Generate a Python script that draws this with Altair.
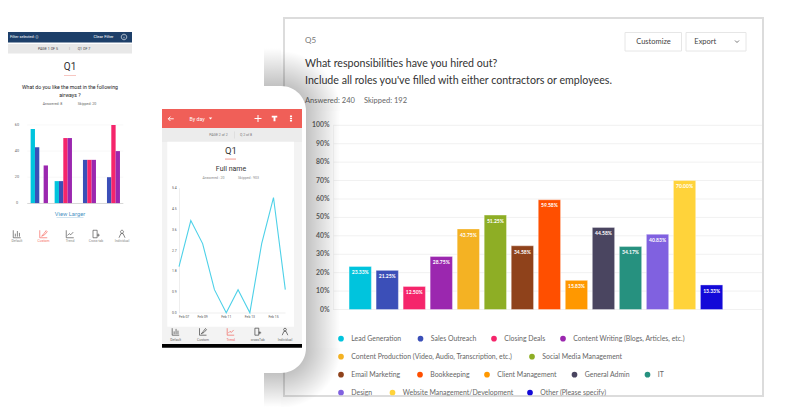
import altair as alt
import pandas as pd

# ---------- data ----------
roles = ["Lead Generation", "Sales Outreach", "Closing Deals", "Content Writing (Blogs, Articles, etc.)",
         "Content Production (Video, Audio, Transcription, etc.)", "Social Media Management",
         "Email Marketing", "Bookkeeping", "Client Management", "General Admin", "IT",
         "Design", "Website Management/Development", "Other (Please specify)"]
role_values = [23.33, 21.25, 12.50, 28.75, 43.75, 51.25, 34.58, 59.58, 15.83, 44.58, 34.17, 40.83, 70.00, 13.33]
role_colors = ["#00c4dd", "#3b4fb8", "#f5256b", "#9b27af", "#f4b223", "#8eae25", "#8f421b",
               "#ff4f00", "#ff9800", "#4a4560", "#26917f", "#8061e0", "#ffd33a", "#1309d8"]
pct_ticks = list(range(0, 101, 10))

airway_groups = ["A", "B", "C", "D"]
airway_series = ["s1", "s2", "s3", "s4"]
airway_colors = ["#00c4dd", "#3b4fb8", "#f5256b", "#9b27af"]
airway_values = {"s1": [57, 17, 0, 0], "s2": [43, 17, 33.3, 20], "s3": [0, 50, 33.3, 60], "s4": [29, 50, 33.3, 40]}
airway_ticks = [0, 20, 40, 60]

trend_days = ["Feb 07", "Feb 08", "Feb 09", "Feb 10", "Feb 11", "Feb 12", "Feb 13", "Feb 14", "Feb 15", "Feb 16"]
trend_values = [2, 4, 3, 1, 0, 1, 0, 3, 5, 1]
trend_ticks = [0.0, 0.9, 1.8, 2.7, 3.6, 4.5, 5.4]
trend_labels = ["Feb 09", "Feb 11", "Feb 13", "Feb 15"]

tab_names = ["Default", "Custom", "Trend", "Cross-tab", "Individual"]
phone_tab_names = ["Default", "Custom", "Trend", "crossTab", "Individual"]

legend_rows = [
    [(0, 341), (1, 420.5), (2, 494), (3, 563)],
    [(4, 341), (5, 532)],
    [(6, 341), (7, 420), (8, 487), (9, 574.5), (10, 647.5)],
    [(11, 341), (12, 392.5), (13, 530)],
]
legend_row_y = [338.7, 356.7, 374.7, 392.7]

# ---------- helpers (page pixels, minus the 8px body margin) ----------
ONE = pd.DataFrame({"a": [0]})
LATO = "Lato"
ROB = "Roboto"
layers = []


def box(x0, y0, x1, y1, **kw):
    layers.append(alt.Chart(ONE).mark_rect(**kw).encode(
        x=alt.value(x0 - 8), x2=alt.value(x1 - 8), y=alt.value(y0 - 8), y2=alt.value(y1 - 8)))


def txt(x, y, s, size, color, align="left", font=LATO, **kw):
    layers.append(alt.Chart(ONE).mark_text(text=s, fontSize=size, color=color, align=align, font=font,
                                           baseline="middle", **kw).encode(
        x=alt.value(x - 8), y=alt.value(y - 8)))


def sym(x, y, path, px, color, filled=False, sw=0.7):
    if filled:
        kw = {"fill": color, "fillOpacity": 1}
    else:
        kw = {"stroke": color, "strokeWidth": sw, "fillOpacity": 0, "strokeOpacity": 1}
    layers.append(alt.Chart(ONE).mark_point(shape=path, size=px * px, filled=filled, **kw).encode(
        x=alt.value(x - 8), y=alt.value(y - 8)))


ICONS = [
    "M-1,-1V1H1M-.45,.7V-.1M.1,.7V-.8M.65,.7V-.3",
    "M-1,-1V1H1M-.5,.6L.1,-.1L.7,-.9L1,-.6L.3,.2Z",
    "M-1,-1V1H1M-.7,.4L-.2,-.1L.2,.2L.85,-.5",
    "M-.8,-1H.3V1H-.8ZM.3,.3H1M.6,-.1V.7",
    "M-.4,-.6A.4,.4 0 1 1 .4,-.6A.4,.4 0 1 1 -.4,-.6M-.8,1L-.3,-.1H.3L.8,1",
]

# ---------- left panel ----------
box(8, 32, 132, 42.5, fill="#1d3f69")
txt(10, 37, "Filter selected: ()", 3.8, "#ffffff", font=ROB)
txt(103.5, 37, "Clear Filter", 4.2, "#ffffff", "center", font=ROB)
sym(124, 37, "M-1,0A1,1 0 1 1 1,0A1,1 0 1 1 -1,0M0,-.1V.5M0,-.5V-.4", 5.5, "#ffffff", sw=0.6)
box(8, 44, 132, 53.5, fill="#e8e8e8")
txt(48, 48.8, "PAGE 1  OF 5", 3.6, "#444444", "center", font=ROB)
txt(69.5, 48.8, "|", 4, "#999999", "center", font=ROB)
txt(84, 48.8, "Q1  OF 7", 3.6, "#444444", "center", font=ROB)
txt(70, 66.7, "Q1", 10, "#333333", "center", font=ROB)
box(64, 75, 76, 75.8, fill="#f6b8b2")
txt(70, 87.3, "What do you like the most in the following", 5.2, "#222222", "center", font=ROB)
txt(70, 95, "airways ?", 5.2, "#222222", "center", font=ROB)
txt(52.5, 103.5, "Answered: 8", 3.6, "#666666", "center", font=ROB)
txt(87, 103.5, "Skipped: 20", 3.6, "#666666", "center", font=ROB)

left_y = alt.Scale(domain=[0, 60], range=[203.3 - 8, 125 - 8])
left_x = alt.Scale(domain=airway_groups, range=[27.3 - 8, 123.3 - 8], paddingInner=0.278, paddingOuter=0.139)
tick_df = pd.DataFrame({"v": airway_ticks, "l": [str(v) for v in airway_ticks]})
layers.append(alt.Chart(tick_df).mark_rule(color="#f3f3f3", strokeWidth=0.6).encode(
    y=alt.Y("v:Q", scale=left_y, axis=None), x=alt.value(27.3 - 8), x2=alt.value(123.3 - 8)))
layers.append(alt.Chart(tick_df).mark_text(fontSize=3.8, color="#666666", font=ROB, align="center", baseline="middle").encode(
    y=alt.Y("v:Q", scale=left_y, axis=None), x=alt.value(17 - 8), text="l:N"))
left_rows = [{"g": g, "s": s, "v": airway_values[s][i]} for i, g in enumerate(airway_groups) for s in airway_series]
layers.append(alt.Chart(pd.DataFrame(left_rows)).mark_bar().encode(
    x=alt.X("g:N", scale=left_x, axis=None),
    xOffset=alt.XOffset("s:N", sort=airway_series),
    y=alt.Y("v:Q", scale=left_y, axis=None),
    color=alt.Color("s:N", scale=alt.Scale(domain=airway_series, range=airway_colors), legend=None)))
box(27.3, 203, 123.3, 203.7, fill="#cccccc")
txt(70, 214.3, "View Larger", 5.8, "#4a94c4", "center", font=ROB)
box(56.5, 217.6, 83.5, 218, fill="#8fbedb")
for i, nm in enumerate(tab_names):
    x = [17, 43.5, 70, 96, 122][i]
    c = "#f66a62" if i == 1 else "#555555"
    sym(x, 234, ICONS[i], 7.5, c, sw=0.7)
    txt(x, 241.3, nm, 3.4, "#f66a62" if i == 1 else "#888888", "center", font=ROB)

# ---------- main panel ----------
box(284, 18, 763, 396, fill="#ffffff", stroke="#dcdcdc", strokeWidth=2)
txt(305, 41, "Q5", 8, "#777777")
txt(305, 63.7, "What responsibilities have you hired out?", 10.65, "#333333")
txt(305, 81.3, "Include all roles you've filled with either contractors or employees.", 10.65, "#333333")
txt(305, 101, "Answered: 240", 7.5, "#666666")
txt(364, 101, "Skipped: 192", 7.5, "#666666")
box(625, 32.5, 681.5, 51, fill="#ffffff", stroke="#e6e6e6", strokeWidth=1)
box(686, 32.5, 746, 51, fill="#ffffff", stroke="#e6e6e6", strokeWidth=1)
txt(653.5, 41.7, "Customize", 7.5, "#444444", "center")
txt(694.3, 41.5, "Export", 7.5, "#444444")
sym(737, 41.5, "M-1,-.5L0,.5L1,-.5", 4, "#555555", sw=0.8)

main_y = alt.Scale(domain=[0, 100], range=[309.5 - 8, 125.3 - 8])
main_x = alt.Scale(domain=roles, range=[346.7 - 8, 725.1 - 8], paddingInner=0.175, paddingOuter=0.0875)
pct_df = pd.DataFrame({"v": pct_ticks, "l": [f"{v}%" for v in pct_ticks]})
layers.append(alt.Chart(pct_df).mark_rule(color="#f1f1f1", strokeWidth=1).encode(
    y=alt.Y("v:Q", scale=main_y, axis=None), x=alt.value(333 - 8), x2=alt.value(762 - 8)))
box(333, 125.3, 333.8, 309.5, fill="#f1f1f1")
layers.append(alt.Chart(pct_df).mark_text(fontSize=6.8, color="#666666", font=LATO, align="right", baseline="middle", fontWeight=700).encode(
    y=alt.Y("v:Q", scale=main_y, axis=None), x=alt.value(329.5 - 8), text="l:N"))
bar_df = pd.DataFrame({"r": roles, "v": role_values, "c": role_colors, "l": [f"{v:.2f}%" for v in role_values]})
layers.append(alt.Chart(bar_df).mark_bar(stroke="#ffffff", strokeOpacity=0.35, strokeWidth=1).encode(
    x=alt.X("r:N", scale=main_x, axis=None, sort=roles),
    y=alt.Y("v:Q", scale=main_y, axis=None),
    color=alt.Color("c:N", scale=None)))
layers.append(alt.Chart(bar_df).mark_text(fontSize=5, color="#ffffff", font=LATO, baseline="middle", dy=5.7, fontWeight=700).encode(
    x=alt.X("r:N", scale=main_x, axis=None, sort=roles),
    y=alt.Y("v:Q", scale=main_y, axis=None),
    text="l:N"))
for row, ry in zip(legend_rows, legend_row_y):
    for idx, lx in row:
        layers.append(alt.Chart(ONE).mark_circle(size=32, color=role_colors[idx], opacity=1).encode(
            x=alt.value(lx - 8), y=alt.value(ry - 8)))
        txt(lx + 10.3, ry, roles[idx], 6.9, "#666666")
box(280, 396, 770, 407, fill="#ffffff")
box(283, 395.5, 764, 397, fill="#dcdcdc")

# ---------- phone shadow ----------
SH = "rgba(0,0,0,0.24)"
CL = "rgba(0,0,0,0)"
R = 60
stops = [alt.GradientStop(offset=0, color=SH), alt.GradientStop(offset=1, color=CL)]
rstops = [alt.GradientStop(offset=0, color=CL), alt.GradientStop(offset=1, color=SH)]
box(264, 48, 281, 86, fill=alt.LinearGradient(gradient="linear", x1=0, y1=0, x2=0, y2=1, stops=rstops))
box(306, 111, 340, 348, fill=alt.LinearGradient(gradient="linear", x1=0, y1=0, x2=1, y2=0, stops=stops))
box(264, 373, 281, 407, fill=alt.LinearGradient(gradient="linear", x1=0, y1=0, x2=0, y2=1, stops=stops))
box(281, 51, 341, 111, fill=alt.RadialGradient(gradient="radial", x1=0, y1=1, r1=25 / R, x2=0, y2=1, r2=1, stops=stops))
box(281, 348, 341, 408, fill=alt.RadialGradient(gradient="radial", x1=0, y1=0, r1=25 / R, x2=0, y2=0, r2=1, stops=stops))

# ---------- phone ----------
box(155, 86, 306, 373, fill="#ffffff", cornerRadius=25)
box(162, 128, 302, 344, fill="#f3f3f3")
box(162, 109, 302, 128, fill="#f05f58")
sym(171, 118.8, "M1,0H-1M-.2,-.8L-1,0L-.2,.8", 5.5, "#ffffff", sw=0.9)
txt(189.5, 118.8, "By day", 5.2, "#ffffff", font=ROB)
sym(210.5, 118.5, "M-1,-.6H1L0,.6Z", 3.5, "#ffffff", filled=True)
sym(258, 118.5, "M-1,0H1M0,-1V1", 7, "#ffffff", sw=1)
sym(274.5, 118.5, "M-1,-1H1V-.4H.35V1H-.35V-.4H-1Z", 5.5, "#ffffff", filled=True)
sym(291, 118.5, "M-.35,-1H.35V-.5H-.35ZM-.35,-.25H.35V.25H-.35ZM-.35,.5H.35V1H-.35Z", 6, "#ffffff", filled=True)
box(162, 128, 302, 142, fill="#ececec")
txt(218.5, 135, "PAGE 2 of 2", 3.5, "#777777", "center", font=ROB)
box(234, 131.5, 234.4, 138.5, fill="#cccccc")
txt(246, 135, "Q 2 of 8", 3.5, "#777777", "center", font=ROB)
box(167.3, 141.7, 294, 326.7, fill="#ffffff")
txt(231, 150.7, "Q1", 9.5, "#333333", "center", font=ROB)
box(225, 158.4, 236, 159.8, fill="#f6b8b2")
txt(231, 168.5, "Full name", 7, "#333333", "center", font=ROB)
txt(213.5, 178.3, "Answered : 20", 3.5, "#888888", "center", font=ROB)
txt(248.5, 178.3, "Skipped : 903", 3.5, "#888888", "center", font=ROB)

trend_x = alt.Scale(type="point", domain=trend_days, range=[179 - 8, 285.3 - 8], padding=0)
trend_y = alt.Scale(domain=[0, 5.4], range=[312.7 - 8, 188.3 - 8])
box(179, 188.3, 179.5, 313, fill="#dddddd")
box(179, 312.7, 285.5, 313.2, fill="#dddddd")
tt_df = pd.DataFrame({"v": trend_ticks, "l": [f"{v:.1f}" for v in trend_ticks]})
layers.append(alt.Chart(tt_df).mark_text(fontSize=3.4, color="#555555", font=ROB, align="center", baseline="middle").encode(
    y=alt.Y("v:Q", scale=trend_y, axis=None), x=alt.value(174.3 - 8), text="l:N"))
layers.append(alt.Chart(pd.DataFrame({"d": trend_days, "v": trend_values})).mark_line(
    color="#4ed1e8", strokeWidth=1.1).encode(
    x=alt.X("d:N", scale=trend_x, axis=None, sort=trend_days),
    y=alt.Y("v:Q", scale=trend_y, axis=None)))
layers.append(alt.Chart(pd.DataFrame({"d": trend_labels})).mark_text(
    fontSize=3.4, color="#555555", font=ROB, align="center").encode(
    x=alt.X("d:N", scale=trend_x, axis=None), y=alt.value(316.7 - 8), text="d:N"))
layers.append(alt.Chart(pd.DataFrame({"d": trend_days[:1]})).mark_text(
    fontSize=3.4, color="#555555", font=ROB, align="left").encode(
    x=alt.X("d:N", scale=trend_x, axis=None), y=alt.value(316.7 - 8), text="d:N"))
for i, nm in enumerate(phone_tab_names):
    x = [175.7, 203, 230.7, 257.7, 285][i]
    c = "#f0665f" if i == 2 else "#444444"
    sym(x, 331.7, ICONS[i], 7, c, sw=0.7)
    txt(x, 340, nm, 3.4, "#f0665f" if i == 2 else "#666666", "center", font=ROB)
box(162, 344, 302, 347.7, fill="#000000")

chart = alt.layer(*layers).resolve_scale(x="independent", y="independent", color="independent").properties(
    width=784, height=399, padding=0, background="#ffffff",
    autosize=alt.AutoSizeParams(type="none"),
).configure_view(stroke=None)

chart.save("out.html", embed_options={"renderer": "svg", "actions": False})
